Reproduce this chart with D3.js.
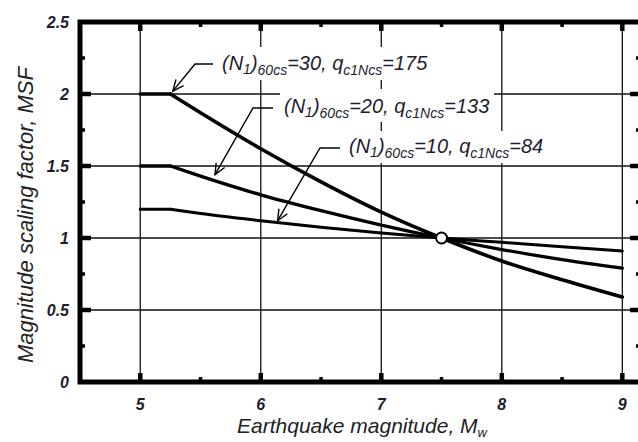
<!DOCTYPE html>
<html>
<head>
<meta charset="utf-8">
<script src="https://cdn.jsdelivr.net/npm/d3@7"></script>
<style>
  body { margin: 0; background: #fff; }
  svg { display: block; font-family: "Liberation Sans", Arial, sans-serif; }
  .lbl { font-style: italic; fill: #1d1d30; }
</style>
</head>
<body>
<svg id="chart" width="638" height="442"></svg>
<script>
// values
const magnitude = [5, 5.25, 5.5, 6, 6.5, 7, 7.5, 8, 8.5, 9];
const msfN30 = [2.00, 2.00, 1.87, 1.62, 1.39, 1.18, 1.00, 0.84, 0.71, 0.59];
const msfN20 = [1.50, 1.50, 1.43, 1.30, 1.19, 1.09, 1.00, 0.92, 0.85, 0.79];
const msfN10 = [1.20, 1.20, 1.17, 1.12, 1.075, 1.035, 1.00, 0.97, 0.94, 0.91];
const xTicks = [5, 6, 7, 8, 9];
const yTicks = [0, 0.5, 1, 1.5, 2, 2.5];
const curveLabels = [
  { n: "30", q: "175" },
  { n: "20", q: "133" },
  { n: "10", q: "84" }
];

const svg = d3.select('#chart');
const plotL = 80, plotT = 22, plotR = 641, plotB = 382;

const x = d3.scaleLinear().domain([4.5, 9.155]).range([plotL, plotR]);
const y = d3.scaleLinear().domain([0, 2.5]).range([plotB, plotT]);

// grid lines
const grid = svg.append('g').attr('stroke', '#111').attr('stroke-width', 1.3);
xTicks.forEach(v => {
  grid.append('line').attr('x1', x(v)).attr('x2', x(v)).attr('y1', plotT).attr('y2', plotB);
});
[0.5, 1, 1.5, 2].forEach(v => {
  grid.append('line').attr('x1', plotL).attr('x2', plotR).attr('y1', y(v)).attr('y2', y(v));
});

// white boxes behind the labels (they cut the grid)
const masks = [
  [215, 47, 222, 33],
  [280, 89, 214, 33],
  [343, 131, 212, 32]
];
masks.forEach(m => {
  svg.append('rect').attr('x', m[0]).attr('y', m[1]).attr('width', m[2]).attr('height', m[3]).attr('fill', '#fff');
});

// curves: flat plateau then a smooth drop
const line = d3.line()
  .x(d => x(d[0]))
  .y(d => y(d[1]))
  .curve(d3.curveMonotoneX);

[[msfN30, 3.6], [msfN20, 3.3], [msfN10, 3.0]].forEach(([vals, w]) => {
  const pts = magnitude.map((m, i) => [m, vals[i]]);
  const g = svg.append('g')
    .attr('fill', 'none')
    .attr('stroke', '#000')
    .attr('stroke-width', w)
    .attr('stroke-linecap', 'round');
  g.append('path').attr('d', d3.line().x(d => x(d[0])).y(d => y(d[1]))(pts.slice(0, 2)));
  g.append('path').attr('d', line(pts.slice(1)));
});

// open circle where the curves cross
svg.append('circle')
  .attr('cx', x(7.5)).attr('cy', y(1)).attr('r', 5.5)
  .attr('fill', '#fff').attr('stroke', '#000').attr('stroke-width', 2);

// frame
svg.append('rect')
  .attr('x', plotL).attr('y', plotT)
  .attr('width', plotR - plotL).attr('height', plotB - plotT)
  .attr('fill', 'none').attr('stroke', '#000').attr('stroke-width', 5);

// inward ticks on all four sides
const ticks = svg.append('g').attr('stroke', '#000');
d3.range(5, 9.01, 0.5).forEach(v => {
  const major = Number.isInteger(v);
  const len = major ? 9 : 5;
  const w = major ? 4.5 : 3.5;
  ticks.append('line').attr('x1', x(v)).attr('x2', x(v)).attr('y1', plotB).attr('y2', plotB - len).attr('stroke-width', w);
  ticks.append('line').attr('x1', x(v)).attr('x2', x(v)).attr('y1', plotT).attr('y2', plotT + len).attr('stroke-width', w);
});
d3.range(0.25, 2.5, 0.25).forEach(v => {
  const major = Math.abs(v * 2 - Math.round(v * 2)) < 1e-6;
  const len = major ? 11 : 5;
  const w = major ? 4.5 : 3.5;
  ticks.append('line').attr('x1', plotL).attr('x2', plotL + len).attr('y1', y(v)).attr('y2', y(v)).attr('stroke-width', w);
  ticks.append('line').attr('x1', plotR).attr('x2', plotR - len).attr('y1', y(v)).attr('y2', y(v)).attr('stroke-width', w);
});

// tick labels
svg.append('g').selectAll('text').data(yTicks).join('text')
  .attr('class', 'lbl')
  .attr('x', 69).attr('y', d => y(d)).attr('dy', '0.36em')
  .attr('text-anchor', 'end')
  .attr('font-size', 16).attr('font-weight', 'bold')
  .text(d => d);

svg.append('g').selectAll('text').data(xTicks).join('text')
  .attr('class', 'lbl')
  .attr('x', d => x(d)).attr('y', 410)
  .attr('text-anchor', 'middle')
  .attr('font-size', 16).attr('font-weight', 'bold')
  .text(d => d);

// axis titles
const xt = svg.append('text').attr('class', 'lbl')
  .attr('x', 362).attr('y', 433).attr('text-anchor', 'middle')
  .attr('font-size', 21).style('fill', '#222');
xt.append('tspan').text('Earthquake magnitude, M');
xt.append('tspan').attr('font-size', 13).attr('dy', 4).text('w');

svg.append('text').attr('class', 'lbl')
  .attr('transform', 'translate(33,215) rotate(-90)')
  .attr('text-anchor', 'middle')
  .attr('font-size', 22).style('fill', '#222')
  .text('Magnitude scaling factor, MSF');

// curve labels with leader arrows
const annot = [
  { tx: 222, ty: 70, start: [213, 64], elbow: [195, 64], tip: [5.27, 2.02] },
  { tx: 284, ty: 113, start: [273, 108], elbow: [253, 108], tip: [5.62, 1.44] },
  { tx: 349, ty: 153, start: [340, 148], elbow: [320, 148], tip: [6.14, 1.12] }
];

annot.forEach((a, i) => {
  const lab = curveLabels[i];
  const t = svg.append('text').attr('class', 'lbl')
    .attr('x', a.tx).attr('y', a.ty).attr('font-size', 20);
  t.append('tspan').text('(N');
  t.append('tspan').attr('font-size', 14).attr('dy', 4).text('1');
  t.append('tspan').attr('dy', -4).text(')');
  t.append('tspan').attr('font-size', 14).attr('dy', 5).text('60cs');
  t.append('tspan').attr('dy', -5).text('=' + lab.n + ', q');
  t.append('tspan').attr('font-size', 14).attr('dy', 5).text('c1Ncs');
  t.append('tspan').attr('dy', -5).text('=' + lab.q);

  const tip = [x(a.tip[0]), y(a.tip[1])];
  svg.append('path')
    .attr('d', d3.line()([a.start, a.elbow, tip]))
    .attr('fill', 'none').attr('stroke', '#000').attr('stroke-width', 1.4);

  // open arrow head
  const ang = Math.atan2(tip[1] - a.elbow[1], tip[0] - a.elbow[0]);
  const L = 12, spread = 0.42;
  const p1 = [tip[0] - L * Math.cos(ang - spread), tip[1] - L * Math.sin(ang - spread)];
  const p2 = [tip[0] - L * Math.cos(ang + spread), tip[1] - L * Math.sin(ang + spread)];
  svg.append('path')
    .attr('d', d3.line()([p1, tip, p2]))
    .attr('fill', 'none').attr('stroke', '#000').attr('stroke-width', 1.4);
});
</script>
</body>
</html>
